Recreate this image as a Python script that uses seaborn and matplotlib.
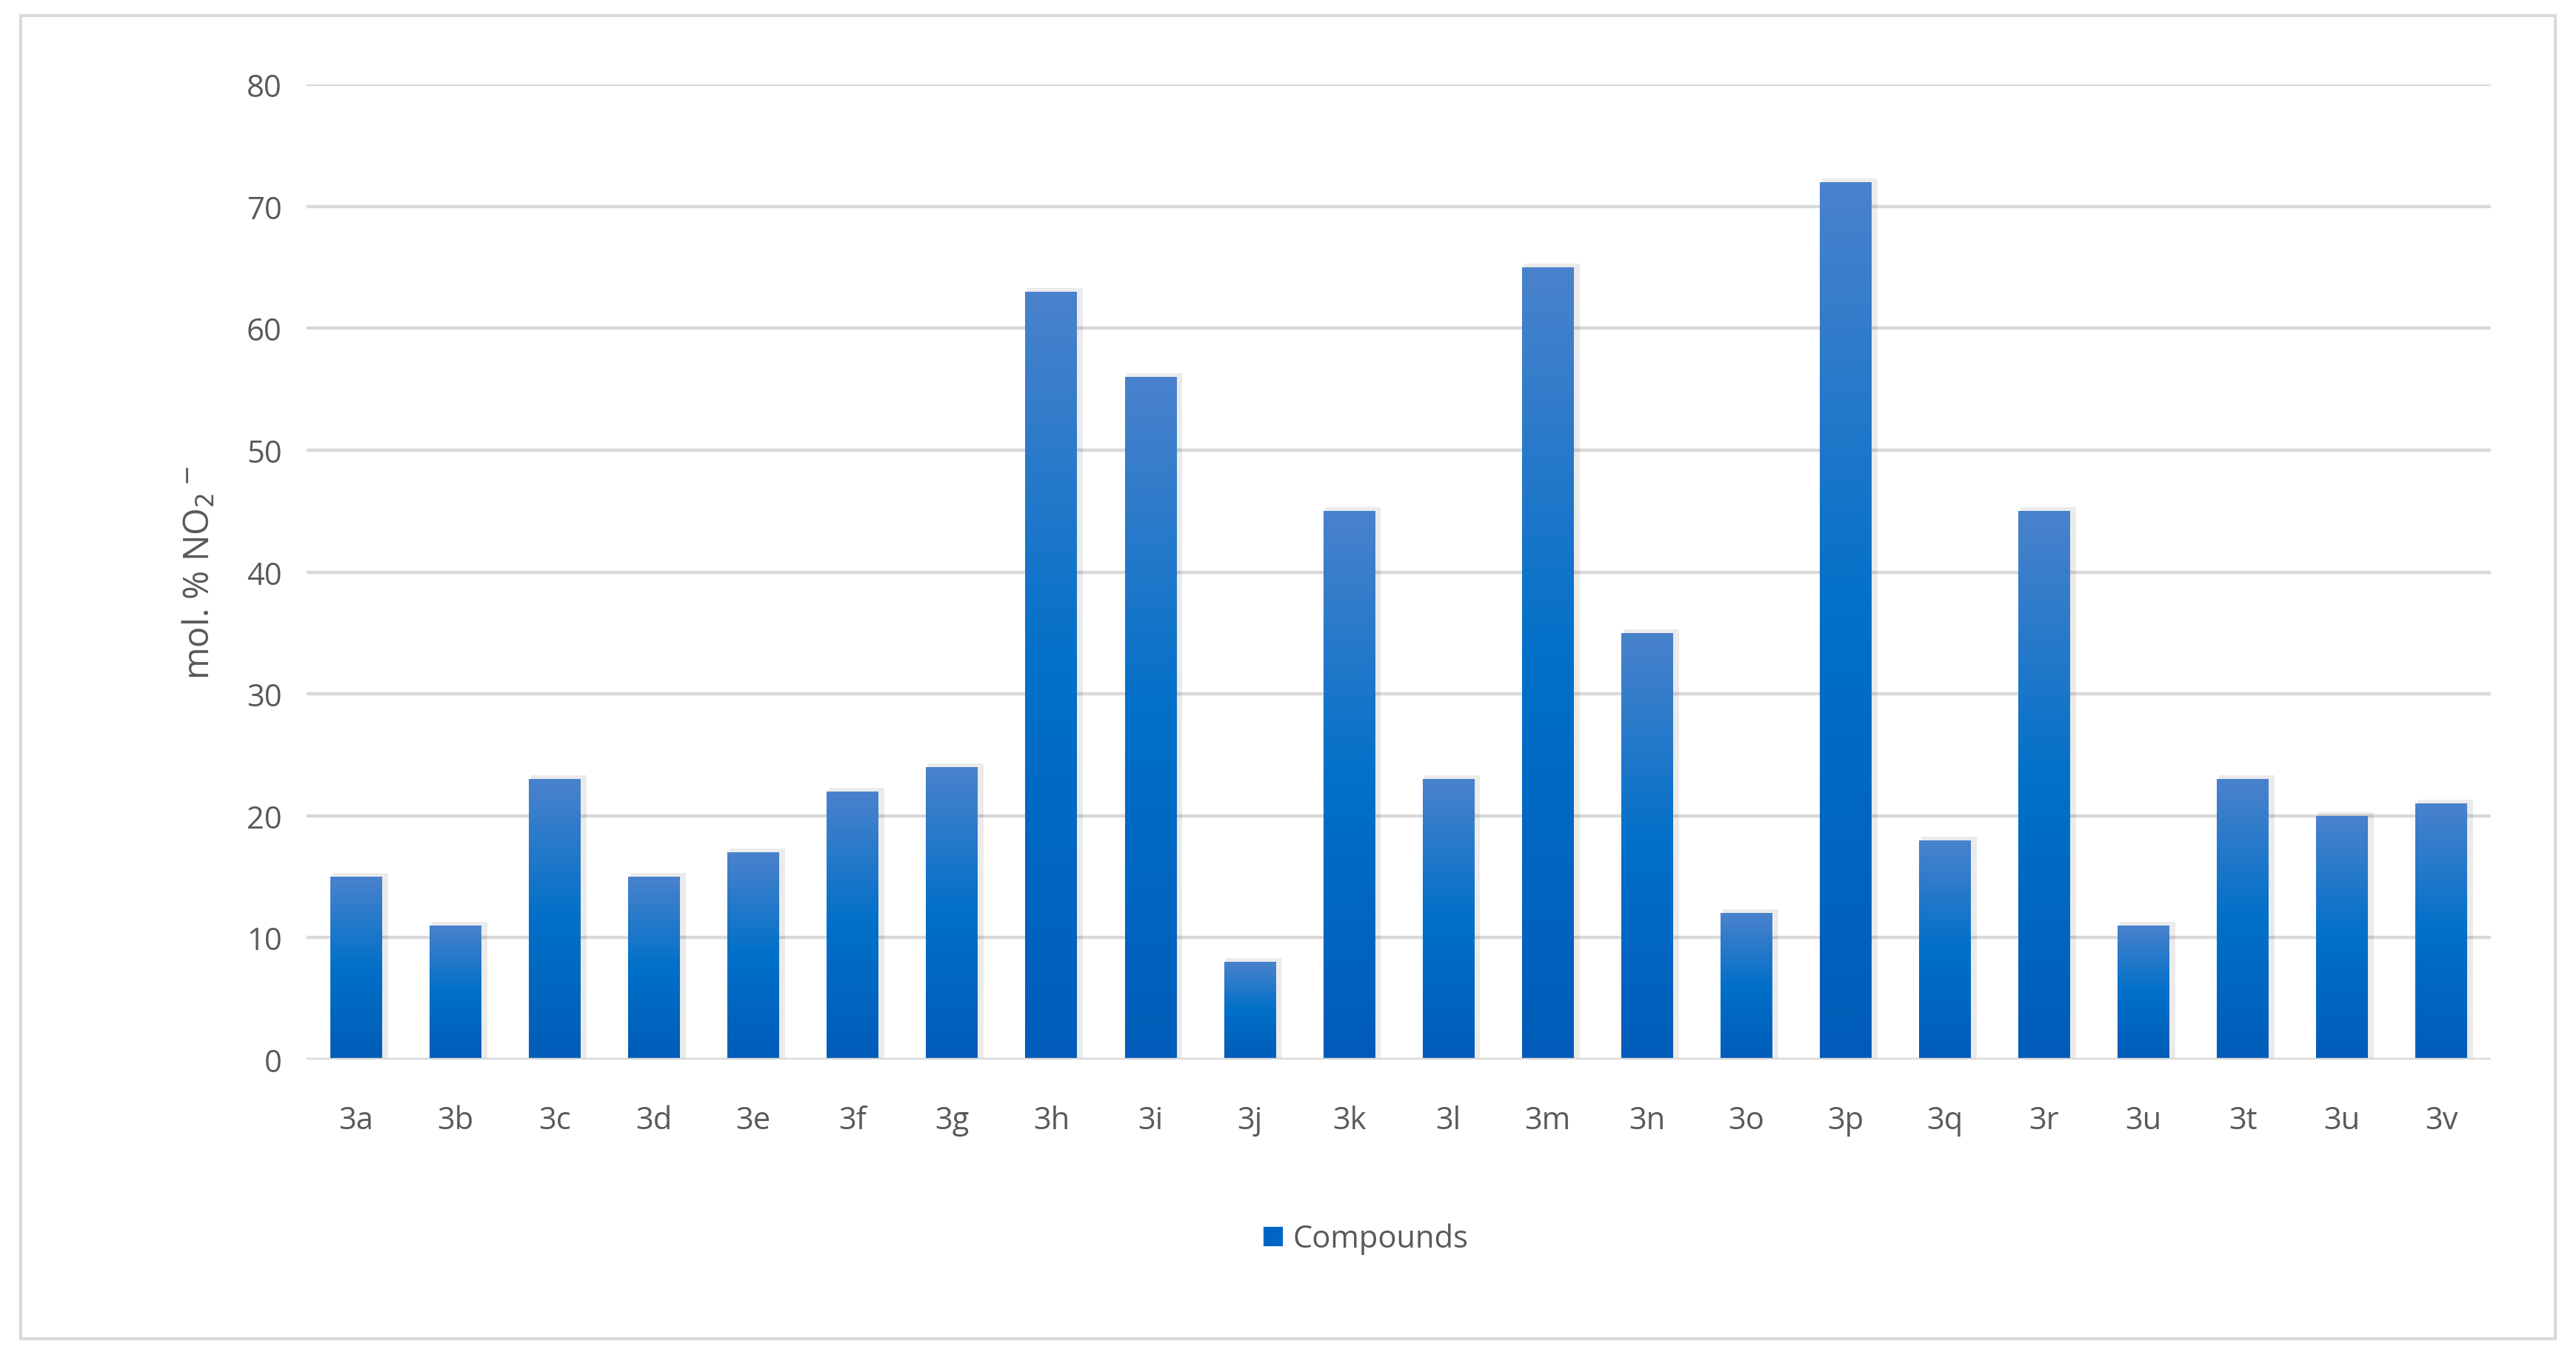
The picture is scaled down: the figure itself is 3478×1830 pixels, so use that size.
import numpy as np
import matplotlib
matplotlib.use("Agg")
import matplotlib.pyplot as plt
import seaborn as sns
from matplotlib.colors import LinearSegmentedColormap
from matplotlib.patches import Rectangle, Patch

compounds = ['3a', '3b', '3c', '3d', '3e', '3f', '3g', '3h', '3i', '3j', '3k',
             '3l', '3m', '3n', '3o', '3p', '3q', '3r', '3u', '3t', '3u', '3v']
no2_mol_pct = [15, 11, 23, 15, 17, 22, 24, 63, 56, 8, 45,
               23, 65, 35, 12, 72, 18, 45, 11, 23, 20, 21]

sns.set_style("white")
plt.rcParams['font.family'] = ['Open Sans', 'DejaVu Sans']
grey = '#595959'

fig = plt.figure(figsize=(17.39, 9.155), dpi=200)
ax = fig.add_axes([0.119, 0.218, 0.848, 0.719])

pos = np.arange(len(compounds))
sns.barplot(x=pos, y=no2_mol_pct, ax=ax, width=0.52, color='#0070c8',
            native_scale=True, zorder=3)

cmap = LinearSegmentedColormap.from_list('bar', ['#005cb8', '#0070c8', '#4a82cc'])
grad = np.linspace(0, 1, 256).reshape(-1, 1)
for p in ax.patches:
    x0, y0, w, h = p.get_x(), p.get_y(), p.get_width(), p.get_height()
    # soft shadow
    ax.add_patch(Rectangle((x0 + 0.02, y0), w + 0.04, h + 0.3, color='#000000',
                           alpha=0.08, zorder=2, lw=0))
    im = ax.imshow(grad, cmap=cmap, origin='lower', aspect='auto',
                   extent=[x0, x0 + w, y0, y0 + h], zorder=4)
    im.set_clip_path(p)
    p.set_alpha(0)

ax.set_xlim(-0.5, len(compounds) - 0.5)
ax.set_ylim(0, 80)
ax.set_yticks(range(0, 81, 10))
ax.set_xticks(pos)
ax.set_xticklabels(compounds)
ax.grid(axis='y', color='#d9d9d9', lw=1.6, zorder=0)
ax.axhline(0, color='#d9d9d9', lw=1.6, zorder=5)
for s in ax.spines.values():
    s.set_visible(False)
ax.tick_params(axis='both', length=0, labelsize=15, colors=grey, pad=12)
ax.tick_params(axis='x', pad=22)
ax.set_ylabel('mol. % NO$_2$$^-$', fontsize=17, color=grey, labelpad=14)

fig.legend(handles=[Patch(facecolor='#0066c4', label='Compounds')],
           loc='center', bbox_to_anchor=(0.53, 0.086), frameon=False,
           fontsize=15, labelcolor=grey, handlelength=0.7, handleheight=0.7,
           handletextpad=0.3)

fig.patches.append(Rectangle((0.008, 0.012), 0.984, 0.976, transform=fig.transFigure,
                             fill=False, edgecolor='#d9d9d9', lw=1.5))

fig.savefig('out.png', dpi=200, facecolor='white')
